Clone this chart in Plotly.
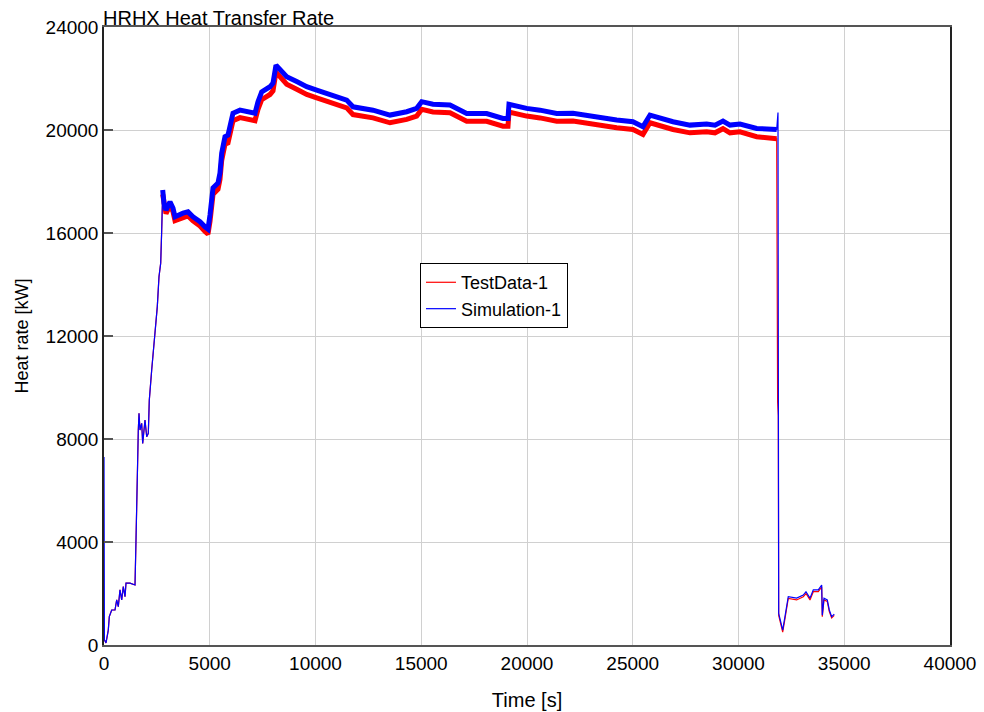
import plotly.graph_objects as go

# Simulation-1 (blue)
t_sim = [0, 20, 95, 156, 203, 251, 364, 520, 600, 676, 756, 837, 912, 993, 1040, 1229, 1466,
         1513, 1546, 1593, 1622, 1655, 1702, 1782, 1830, 1938, 2019, 2095, 2142, 2255, 2411,
         2520, 2600, 2681, 2728, 2775, 2837, 2931, 3120, 3262, 3357, 3735, 3972, 4208, 4539,
         4775, 4917, 5012, 5154, 5390, 5484, 5565, 5721, 5863, 6038, 6099, 6430, 6903, 7139,
         7281, 7456, 7848, 7990, 8132, 8321, 8638, 9111, 9584, 10057, 10827, 11475, 11773,
         12718, 13522, 14312, 14784, 15021, 15555, 16359, 17148, 18094, 18865, 19101, 19148,
         19985, 20614, 21404, 22174, 23120, 24240, 25011, 25484, 25815, 26288, 26902, 27706,
         28496, 28888, 29266, 29597, 30070, 30860, 31806, 31867, 31900, 32090, 32200, 32353,
         32750, 33062, 33190, 33380, 33536, 33773, 33933, 33962, 34042, 34198, 34293, 34405,
         34528]
hr_sim = [7300, 200, 80, 320, 580, 1100, 1360, 1360, 1750, 1490, 2140, 1750, 2270, 1880, 2400,
          2400, 2330, 4080, 5760, 6920, 8350, 9000, 8350, 8610, 7830, 8740, 8090, 8220, 9510,
          10680, 12230, 13140, 14300, 14830, 16110, 17670, 17160, 16890, 17210, 16970, 16630,
          16770, 16820, 16630, 16440, 16240, 16150, 16700, 17750, 17940, 18330, 19100, 19740,
          19800, 20510, 20650, 20770, 20710, 20650, 21100, 21480, 21680, 21820, 22520, 22330,
          22070, 21880, 21680, 21550, 21360, 21160, 20900, 20770, 20580, 20710, 20840, 21100,
          21000, 20970, 20640, 20640, 20450, 20450, 21000, 20840, 20770, 20640, 20650, 20510,
          20390, 20320, 20130, 20580, 20450, 20320, 20190, 20230, 20190, 20350, 20190, 20230,
          20060, 20020, 20680, 1230, 580, 1100, 1880, 1820, 1940, 2070, 1820, 2140, 2140, 2330,
          1160, 1820, 1750, 1360, 1100, 1200]

# TestData-1 (red)
t_test = [0, 20, 95, 156, 203, 251, 364, 520, 600, 676, 756, 837, 912, 993, 1040, 1229, 1466,
          1513, 1546, 1593, 1622, 1655, 1702, 1782, 1830, 1938, 2019, 2095, 2142, 2255, 2411,
          2520, 2600, 2681, 2728, 2775, 2837, 2931, 3120, 3262, 3357, 3735, 3972, 4208, 4539,
          4775, 4917, 5012, 5154, 5390, 5484, 5565, 5721, 5863, 6038, 6099, 6430, 6903, 7139,
          7281, 7456, 7848, 7990, 8132, 8321, 8638, 9111, 9584, 10057, 10827, 11475, 11773,
          12718, 13522, 14312, 14784, 15021, 15555, 16359, 17148, 18094, 18865, 19101, 19148,
          19985, 20614, 21404, 22174, 23120, 24240, 25011, 25484, 25815, 26288, 26902, 27706,
          28496, 28888, 29266, 29597, 30070, 30860, 31806, 31850, 31880, 31900, 32090, 32200,
          32353, 32750, 33062, 33190, 33380, 33536, 33773, 33933, 33962, 34042, 34198, 34293,
          34405, 34528]
hr_test = [300, 200, 80, 320, 580, 1100, 1360, 1360, 1750, 1490, 2140, 1750, 2270, 1880, 2400,
           2400, 2330, 4080, 5760, 6920, 8350, 9000, 8350, 8610, 7830, 8740, 8090, 8220, 9510,
           10680, 12230, 13140, 14300, 14830, 16110, 17500, 17020, 16750, 17070, 16830, 16480,
           16620, 16660, 16470, 16270, 16060, 15960, 16450, 17500, 17700, 18080, 18820, 19450,
           19500, 20220, 20360, 20480, 20420, 20360, 20800, 21180, 21380, 21520, 22250, 22050,
           21780, 21580, 21380, 21250, 21060, 20860, 20600, 20470, 20280, 20410, 20540, 20800,
           20700, 20670, 20340, 20340, 20150, 20150, 20700, 20540, 20470, 20340, 20350, 20210,
           20090, 20020, 19830, 20280, 20150, 20020, 19890, 19930, 19890, 20050, 19890, 19930,
           19740, 19660, 9440, 8900, 1150, 500, 1030, 1810, 1750, 1870, 2000, 1750, 2070, 2070,
           2260, 1100, 1750, 1690, 1300, 1050, 1150]

x_ticks = [0, 5000, 10000, 15000, 20000, 25000, 30000, 35000, 40000]
y_ticks = [0, 4000, 8000, 12000, 16000, 20000, 24000]

RED = "#ff0000"
BLUE = "#0000ff"
FONT = "Liberation Sans, Arial, sans-serif"

# Noisy-band section (thick) index ranges
i0_s, i1_s = t_sim.index(2775), t_sim.index(31806) + 1
i0_t, i1_t = t_test.index(2775), t_test.index(31806) + 1

fig = go.Figure()
fig.add_trace(go.Scatter(x=t_test, y=hr_test, mode="lines", name="TestData-1",
                         line=dict(color=RED, width=1.2)))
fig.add_trace(go.Scatter(x=t_test[i0_t:i1_t], y=hr_test[i0_t:i1_t], mode="lines",
                         showlegend=False, hoverinfo="skip",
                         line=dict(color=RED, width=5)))
fig.add_trace(go.Scatter(x=t_sim, y=hr_sim, mode="lines", name="Simulation-1",
                         line=dict(color=BLUE, width=1.2)))
fig.add_trace(go.Scatter(x=t_sim[i0_s:i1_s], y=hr_sim[i0_s:i1_s], mode="lines",
                         showlegend=False, hoverinfo="skip",
                         line=dict(color=BLUE, width=5)))

fig.update_layout(
    width=984, height=712,
    margin=dict(l=104, r=34, t=27, b=67, autoexpand=False),
    paper_bgcolor="white", plot_bgcolor="white",
    font=dict(family=FONT, size=19, color="black"),
    showlegend=True,
    legend=dict(x=0.3735, y=0.618, xanchor="left", yanchor="top",
                bgcolor="white", bordercolor="black", borderwidth=1,
                font=dict(size=18), tracegroupgap=0, itemwidth=30),
    annotations=[dict(text="HRHX Heat Transfer Rate", x=0, y=1, xref="paper", yref="paper",
                      xanchor="left", yanchor="bottom", showarrow=False,
                      font=dict(size=20), yshift=-4, xshift=-3)],
)
fig.update_xaxes(range=[0, 40000], tickvals=x_ticks, ticktext=[str(v) for v in x_ticks],
                 showgrid=True, gridcolor="#d0d0d0", gridwidth=1,
                 showline=True, linecolor="#555555", linewidth=1.5, mirror=True,
                 ticks="", zeroline=False, automargin=False,
                 title=dict(text="Time [s]", standoff=20, font=dict(size=20)))
fig.update_yaxes(range=[0, 24000], tickvals=y_ticks, ticktext=[str(v) for v in y_ticks],
                 showgrid=True, gridcolor="#d0d0d0", gridwidth=1,
                 showline=True, linecolor="#222222", linewidth=1.5, mirror=True,
                 ticks="inside", ticklen=9, tickcolor="#555555", tickwidth=2,
                 zeroline=False, automargin=False,
                 title=dict(text="Heat rate [kW]", standoff=12, font=dict(size=18)))

fig.write_html("out.html")
